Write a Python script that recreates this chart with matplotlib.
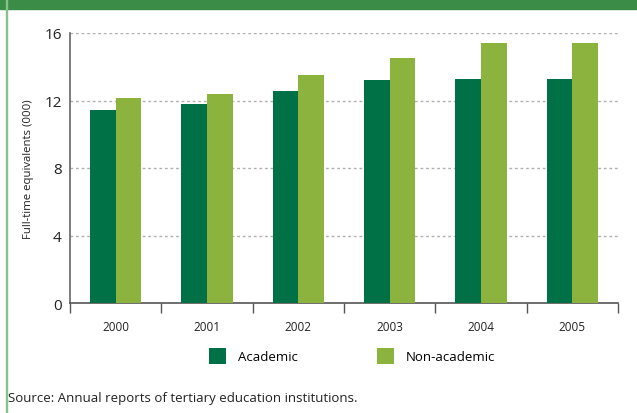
import matplotlib.pyplot as plt
import numpy as np
from matplotlib.patches import Rectangle

years = ["2000", "2001", "2002", "2003", "2004", "2005"]
academic = [11.45, 11.8, 12.55, 13.2, 13.27, 13.27]
non_academic = [12.15, 12.4, 13.5, 14.5, 15.4, 15.4]
y_ticks = [0, 4, 8, 12, 16]

dark_green = "#007046"
light_green = "#8DB33F"

plt.rcParams['font.family'] = ['Open Sans', 'DejaVu Sans']

fig = plt.figure(figsize=(6.37, 4.14), dpi=100)

# header band and left rule
fig.patches.append(Rectangle((0, 1 - 10 / 414), 1, 10 / 414, transform=fig.transFigure,
                             color="#3A8C46", zorder=0))
fig.patches.append(Rectangle((6 / 637, 0), 1.5 / 637, 1, transform=fig.transFigure,
                             color="#86C08E", zorder=0))

ax = fig.add_axes([70 / 637, 1 - 304 / 414, 548 / 637, 270 / 414])

x = np.arange(len(years))
w = 0.28
ax.bar(x - w / 2, academic, width=w, color=dark_green, label="Academic", zorder=3)
ax.bar(x + w / 2, non_academic, width=w, color=light_green, label="Non-academic", zorder=3)

ax.set_xlim(-0.5, len(years) - 0.5)
ax.set_ylim(0, 16)
ax.set_yticks(y_ticks)
ax.set_yticklabels([str(t) for t in y_ticks], fontsize=11, color="#222222")
ax.tick_params(axis="y", length=0, pad=6)

# category separators as ticks below the axis
ax.set_xticks(np.arange(-0.5, len(years), 1.0))
ax.set_xticklabels([])
ax.tick_params(axis="x", direction="out", length=7, width=1, color="#555555")
for i, yr in enumerate(years):
    ax.text(i, -1.0, yr, ha="center", va="top", fontsize=8.5, color="#222222")

for t in y_ticks[1:]:
    ax.axhline(t, color="#B0B0B0", linestyle=(0, (2, 2)), linewidth=1, zorder=1)

for s in ["top", "right"]:
    ax.spines[s].set_visible(False)
ax.spines["left"].set_color("#666666")
ax.spines["bottom"].set_color("#555555")
ax.spines["left"].set_linewidth(1.2)
ax.spines["bottom"].set_linewidth(1.2)

ax.set_ylabel("Full-time equivalents (000)", fontsize=8.2, color="#222222", labelpad=7)

fig.legend(loc="center", bbox_to_anchor=(352 / 637, 1 - 357 / 414), ncol=2, frameon=False,
           fontsize=9.5, handlelength=1.3, handleheight=1.6, columnspacing=6, handletextpad=0.9)

fig.text(8 / 637, 1 - 399 / 414, "Source: Annual reports of tertiary education institutions.",
         fontsize=9.5, color="#222222", va="center")

fig.savefig("out.png", dpi=100)
